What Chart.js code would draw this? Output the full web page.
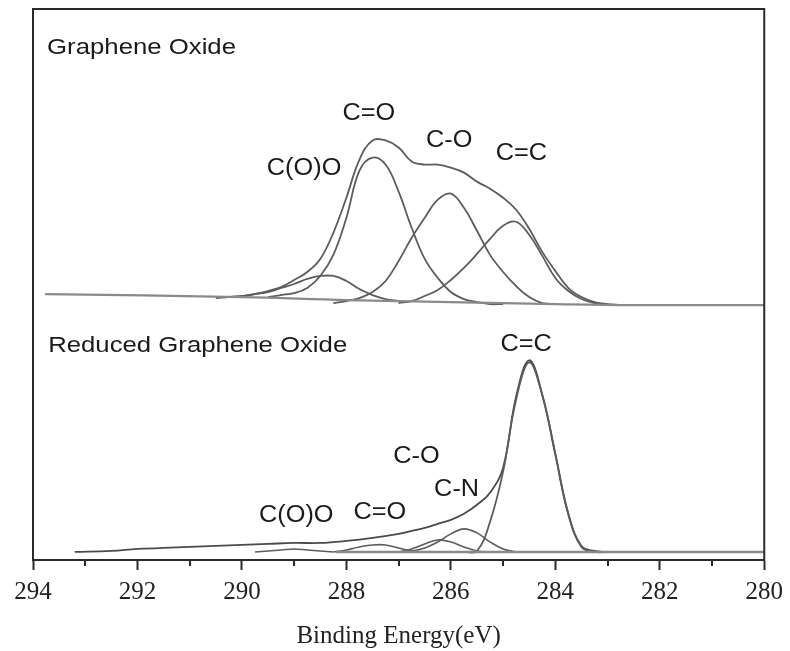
<!DOCTYPE html>
<html>
<head>
<meta charset="utf-8">
<script src="https://cdn.jsdelivr.net/npm/chart.js@4.4.1/dist/chart.umd.min.js"></script>
<style>
  html, body { margin: 0; padding: 0; background: #fff; }
  #wrap { width: 790px; height: 651px; }
</style>
</head>
<body>
<div id="wrap"><canvas id="xps"></canvas></div>
<script>
// Binding energy axis (eV), plotted high -> low
const X_MIN = 280, X_MAX = 294;
const MINOR_TICKS = [293, 291, 289, 287, 285, 283, 281];

// ---- Graphene Oxide (upper trace, stacked intensity, a.u.)
const goBaseE = [293.77, 290, 288, 286, 284, 282.5, 280];
const goBase  = [265, 262, 259, 257, 255, 254, 254];

const goEnvE = [290.5, 290.25, 290, 289.75, 289.5, 289.25, 289, 288.75, 288.5, 288.25, 288, 287.75,
                287.5, 287.25, 287, 286.75, 286.5, 286.25, 286, 285.75, 285.5, 285.25, 285, 284.75,
                284.5, 284.25, 284, 283.75, 283.5, 283.25, 283, 282.75];
const goEnv  = [261, 262, 263, 265, 268, 272, 279, 287, 300, 326, 361, 399,
                418, 418, 411, 397, 394, 394, 391, 386, 377, 370, 361, 349,
                330, 307, 288, 271, 262, 257, 255, 254];

const goCOOHE = [290.25, 290, 289.75, 289.5, 289.25, 289, 288.75, 288.5, 288.25, 288, 287.75, 287.5, 287.25, 287];
const goCOOH  = [262, 263, 265, 267, 271, 275, 280, 283, 283, 278, 270, 264, 260, 258];

const goCdOE = [289.5, 289.25, 289, 288.75, 288.5, 288.25, 288, 287.75, 287.5, 287.25,
                287, 286.75, 286.5, 286.25, 286, 285.75, 285.5, 285.25, 285];
const goCdO  = [262, 264, 266, 271, 283, 304, 341, 388, 401, 394,
                367, 331, 300, 281, 267, 260, 257, 255, 255];

const goCOE = [288.25, 288, 287.75, 287.5, 287.25, 287, 286.75, 286.5, 286.25,
               286, 285.75, 285.5, 285.25, 285, 284.75, 284.5, 284.25, 284];
const goCO  = [256, 258, 261, 267, 278, 298, 321, 341, 359,
               365, 351, 328, 304, 287, 273, 262, 256, 255];

const goCCE = [287, 286.75, 286.5, 286.25, 286, 285.75, 285.5, 285.25, 285,
               284.75, 284.5, 284.25, 284, 283.75, 283.5, 283.25, 283];
const goCC  = [256, 258, 263, 269, 279, 291, 305, 320, 333,
               337, 324, 303, 281, 268, 260, 256, 255];

// ---- Reduced Graphene Oxide (lower trace)
const rgoBaseE = [288.2, 280];
const rgoBase  = [8, 8];

const rgoEnvE = [293.2, 292.5, 292, 291.5, 291, 290.5, 290, 289.5, 289, 288.5, 288, 287.5,
                 287, 286.75, 286.5, 286.25, 286, 285.75, 285.5, 285.25, 285, 284.75,
                 284.5, 284.25, 284, 283.75, 283.5, 283.25, 283];
const rgoEnv  = [8, 9, 11, 12, 13, 14, 15, 16, 17, 17, 19, 22,
                 26, 29, 32, 36, 40, 46, 55, 67, 92, 163,
                 199, 165, 106, 46, 14, 9, 8];

const rgoCCE = [285.75, 285.5, 285.25, 285, 284.75, 284.5, 284.25, 284, 283.75, 283.5, 283.25, 283];
const rgoCC  = [8, 9, 38, 88, 160, 197, 164, 105, 45, 13, 8, 8];

const rgoCNE = [287, 286.75, 286.5, 286.25, 286, 285.75, 285.5, 285.25, 285, 284.75];
const rgoCN  = [8, 9, 12, 18, 26, 31, 27, 18, 11, 8];

const rgoCOE = [287, 286.75, 286.5, 286.25, 286, 285.75, 285.5, 285.25];
const rgoCO  = [8, 11, 16, 20, 18, 13, 9, 8];

const rgoCdOE = [288.25, 288, 287.75, 287.5, 287.25, 287, 286.75, 286.5];
const rgoCdO  = [8, 10, 13, 15, 15, 12, 9, 8];

const rgoCOOHE = [289.75, 289.5, 289.25, 289, 288.75, 288.5, 288.25];
const rgoCOOH  = [8, 9, 10, 11, 10, 9, 8];

// text placed at (energy, intensity)
const panelTitles = [
  { text: 'Graphene Oxide', e: 293.73, v: 510 },
  { text: 'Reduced Graphene Oxide', e: 293.71, v: 213 },
];
const peakLabels = [
  { text: 'C=O', e: 287.57, v: 445 },
  { text: 'C(O)O', e: 288.81, v: 390 },
  { text: 'C-O', e: 286.03, v: 418 },
  { text: 'C=C', e: 284.65, v: 405 },
  { text: 'C=C', e: 284.56, v: 215 },
  { text: 'C-O', e: 286.66, v: 103 },
  { text: 'C-N', e: 285.89, v: 70 },
  { text: 'C=O', e: 287.36, v: 47 },
  { text: 'C(O)O', e: 288.96, v: 44 },
];

const LINE = '#5c5c5c';
const BASE = '#8a8a8a';

function series(xs, ys, color, width) {
  return {
    data: xs.map((x, i) => ({ x: x, y: ys[i] })),
    borderColor: color,
    borderWidth: width,
    pointRadius: 0,
    fill: false,
    tension: 0.4,
  };
}

const frame = {
  id: 'frame',
  afterDraw(chart) {
    const { ctx, chartArea: a, scales } = chart;
    ctx.save();
    ctx.strokeStyle = '#2a2a2a';
    ctx.lineWidth = 2;
    ctx.strokeRect(a.left, a.top, a.right - a.left, a.bottom - a.top);
    // shorter minor ticks
    MINOR_TICKS.forEach(v => {
      const px = Math.round(scales.x.getPixelForValue(v));
      ctx.beginPath();
      ctx.moveTo(px, a.bottom);
      ctx.lineTo(px, a.bottom + 6);
      ctx.stroke();
    });
    // annotations
    ctx.fillStyle = '#1a1a1a';
    ctx.textBaseline = 'middle';
    const put = (l, size, sx, align) => {
      ctx.save();
      ctx.translate(scales.x.getPixelForValue(l.e), scales.y.getPixelForValue(l.v));
      ctx.scale(sx, 1);
      ctx.font = size + 'px "Liberation Sans", Arial, sans-serif';
      ctx.textAlign = align;
      ctx.fillText(l.text, 0, 0);
      ctx.restore();
    };
    panelTitles.forEach(l => put(l, 22, 1.17, 'left'));
    peakLabels.forEach(l => put(l, 23, 1.1, 'center'));
    ctx.restore();
  }
};

new Chart(document.getElementById('xps'), {
  type: 'line',
  data: {
    datasets: [
      series(goBaseE, goBase, BASE, 2.2),
      series(goCOOHE, goCOOH, LINE, 1.8),
      series(goCdOE, goCdO, LINE, 1.8),
      series(goCOE, goCO, LINE, 1.8),
      series(goCCE, goCC, LINE, 1.8),
      series(goEnvE, goEnv, LINE, 1.8),
      series(rgoBaseE, rgoBase, BASE, 2.5),
      series(rgoCOOHE, rgoCOOH, LINE, 1.6),
      series(rgoCdOE, rgoCdO, LINE, 1.6),
      series(rgoCOE, rgoCO, LINE, 1.6),
      series(rgoCNE, rgoCN, LINE, 1.6),
      series(rgoCCE, rgoCC, LINE, 1.8),
      series(rgoEnvE, rgoEnv, '#4a4a4a', 1.8),
    ]
  },
  options: {
    responsive: true,
    maintainAspectRatio: false,
    animation: false,
    devicePixelRatio: 1,
    layout: { padding: { left: 33, right: 23, top: 9, bottom: 0 } },
    plugins: { legend: { display: false }, tooltip: { enabled: false } },
    scales: {
      x: {
        type: 'linear',
        min: X_MIN,
        max: X_MAX,
        reverse: true,
        grid: { drawOnChartArea: false, tickLength: 10, tickColor: '#2a2a2a', tickWidth: 2 },
        border: { color: '#2a2a2a', width: 2 },
        ticks: {
          stepSize: 2,
          padding: 7,
          maxRotation: 0,
          autoSkip: false,
          color: '#222',
          font: { family: '"Liberation Serif", "Times New Roman", serif', size: 25 },
        },
        title: {
          display: true,
          text: 'Binding Energy(eV)',
          color: '#222',
          font: { family: '"Liberation Serif", "Times New Roman", serif', size: 25 },
          padding: { top: 7, bottom: 0 },
        },
      },
      y: { display: false, min: 0, max: 549 },
    },
  },
  plugins: [frame],
});
</script>
</body>
</html>
